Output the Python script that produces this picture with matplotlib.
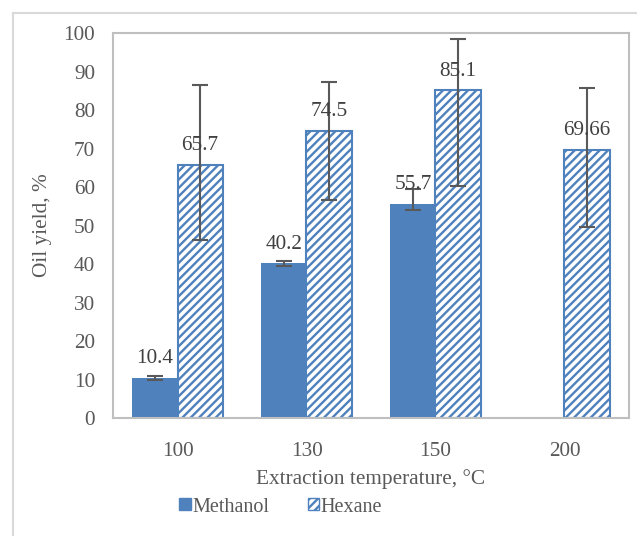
import numpy as np
import matplotlib
matplotlib.use("Agg")
import matplotlib.pyplot as plt
from matplotlib.patches import Patch
from matplotlib.lines import Line2D

categories = ["100", "130", "150", "200"]
methanol = [10.4, 40.2, 55.7, np.nan]
methanol_err_low = [0.6, 0.6, 1.7, np.nan]
methanol_err_high = [0.6, 0.7, 3.8, np.nan]
hexane = [65.7, 74.5, 85.1, 69.66]
hexane_err_low = [19.5, 17.9, 24.8, 20.0]
hexane_err_high = [20.8, 12.9, 13.3, 16.1]
meth_labels = ["10.4", "40.2", "55.7", ""]
hex_labels = ["65.7", "74.5", "85.1", "69.66"]

plt.rcParams['font.family'] = ['Liberation Serif', 'DejaVu Serif']
plt.rcParams['hatch.linewidth'] = 1.7
plt.rcParams['hatch.color'] = '#4F81BD'

blue = '#4F81BD'
fs = 15.3
fig = plt.figure(figsize=(6.37, 5.36), dpi=100)
ax = fig.add_axes([0.1774, 0.2201, 0.81, 0.7183])

x = np.arange(len(categories))
w = 0.35
ax.bar(x - w/2, methanol, w, color=blue, edgecolor=blue, linewidth=0)
ax.bar(x + w/2, hexane, w, color='white', edgecolor=blue, hatch='////', linewidth=1.5)

ax.errorbar(x - w/2, methanol, yerr=[methanol_err_low, methanol_err_high], fmt='none',
            ecolor='#595959', elinewidth=1.5, capsize=6, capthick=1.5)
ax.errorbar(x + w/2, hexane, yerr=[hexane_err_low, hexane_err_high], fmt='none',
            ecolor='#595959', elinewidth=1.5, capsize=6, capthick=1.5)

for xi, v, lab in zip(x - w/2, methanol, meth_labels):
    if lab:
        ax.annotate(lab, (xi, v), xytext=(0, 7), textcoords='offset points',
                    ha='center', va='bottom', fontsize=fs, color='#404040')
for xi, v, lab in zip(x + w/2, hexane, hex_labels):
    ax.annotate(lab, (xi, v), xytext=(0, 7), textcoords='offset points',
                ha='center', va='bottom', fontsize=fs, color='#404040')

ax.set_xlim(-0.5, 3.5)
ax.set_ylim(0, 100)
ax.set_yticks(np.arange(0, 101, 10))
ax.set_xticks(x)
ax.set_xticklabels(categories)
ax.tick_params(axis='both', length=0, labelsize=fs, labelcolor='#595959')
ax.tick_params(axis='y', pad=13)
ax.tick_params(axis='x', pad=17)
for s in ax.spines.values():
    s.set_color('#BFBFBF')
    s.set_linewidth(1.5)

ax.set_xlabel("Extraction temperature, °C", fontsize=fs, color='#595959', labelpad=6)
ax.set_ylabel("Oil yield, %", fontsize=fs, color='#595959', labelpad=8)

handles = [Patch(facecolor=blue, edgecolor=blue),
           Patch(facecolor='white', edgecolor=blue, hatch='////')]
fig.legend(handles, ["Methanol", "Hexane"], loc='center', bbox_to_anchor=(0.441, 0.054),
           ncol=2, frameon=False, fontsize=14.5, handlelength=0.55, handleheight=0.55,
           handletextpad=0.1, columnspacing=1.9, labelcolor='#595959')

fig.add_artist(Line2D([13/637, 13/637], [0, 1 - 13/536], transform=fig.transFigure,
                      color='#D9D9D9', linewidth=1.5))
fig.add_artist(Line2D([13/637, 1], [1 - 13/536, 1 - 13/536], transform=fig.transFigure,
                      color='#D9D9D9', linewidth=1.5))

fig.savefig("out.png", dpi=100)
